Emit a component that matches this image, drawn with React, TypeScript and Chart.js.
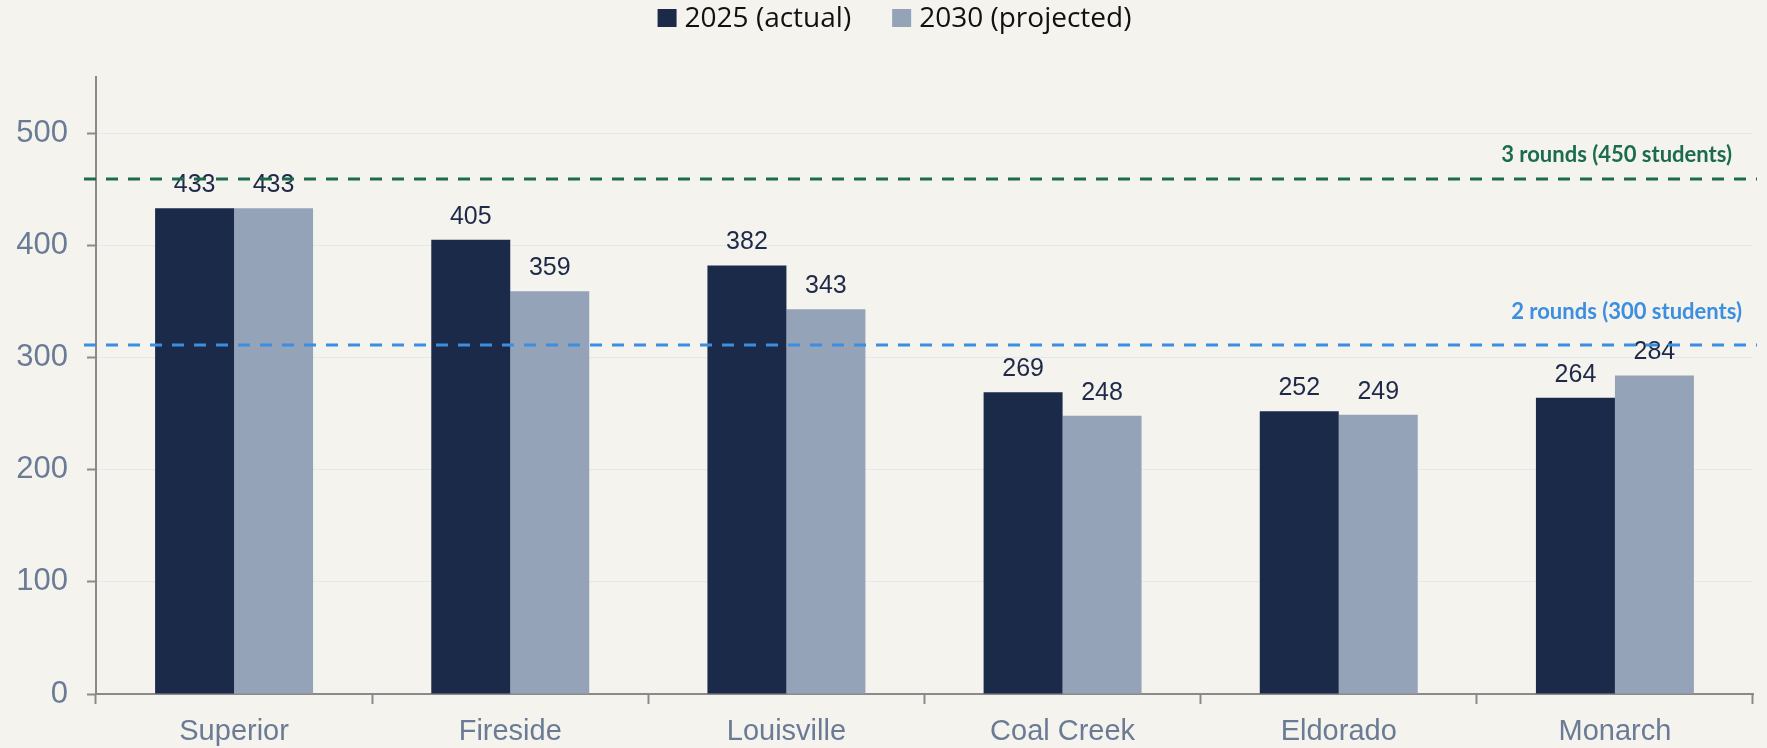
import React, { useEffect, useRef } from "react";
import { Chart, registerables } from "chart.js";

Chart.register(...registerables);

const categories = ["Superior", "Fireside", "Louisville", "Coal Creek", "Eldorado", "Monarch"];
const actual2025 = [433, 405, 382, 269, 252, 264];
const projected2030 = [433, 359, 343, 248, 249, 284];
const seriesLabels = ["2025 (actual)", "2030 (projected)"];
const yTicks = [0, 100, 200, 300, 400, 500];
const thresholds = [
  { value: 459, label: "3 rounds (450 students)", color: "#1b6b4f", textLift: 17, textInset: 21 },
  { value: 311, label: "2 rounds (300 students)", color: "#3c8ee0", textLift: 26, textInset: 11 },
];

const BG = "#f4f3ee";
const DARK = "#1c2a4a";
const LIGHT = "#95a3b8";
const AXIS = "#8a8a8a";
const TICK_TEXT = "#6b7b95";

const bgPlugin = {
  id: "bg",
  beforeDraw(chart: any) {
    const { ctx, width, height } = chart;
    ctx.save();
    ctx.fillStyle = BG;
    ctx.fillRect(0, 0, width, height);
    ctx.restore();
  },
};

const valueLabels = {
  id: "valueLabels",
  afterDatasetsDraw(chart: any) {
    const { ctx } = chart;
    ctx.save();
    ctx.font = "25px 'Liberation Sans', Arial, sans-serif";
    ctx.fillStyle = "#1f2a48";
    ctx.textAlign = "center";
    ctx.textBaseline = "middle";
    chart.data.datasets.forEach((ds: any, di: number) => {
      const meta = chart.getDatasetMeta(di);
      meta.data.forEach((bar: any, i: number) => {
        ctx.fillText(String(ds.data[i]), bar.x, bar.y - 23);
      });
    });
    ctx.restore();
  },
};

const thresholdLines = {
  id: "thresholdLines",
  afterDraw(chart: any) {
    const { ctx, chartArea, scales } = chart;
    ctx.save();
    thresholds.forEach((t) => {
      const y = scales.y.getPixelForValue(t.value);
      ctx.strokeStyle = t.color;
      ctx.lineWidth = 3;
      ctx.setLineDash([12, 10]);
      ctx.beginPath();
      ctx.moveTo(chartArea.left - 12, y);
      ctx.lineTo(chartArea.right + 4, y);
      ctx.stroke();
      ctx.setLineDash([]);
      ctx.font = "bold 22px Lato, 'Open Sans', sans-serif";
      ctx.fillStyle = t.color;
      ctx.textAlign = "right";
      ctx.textBaseline = "alphabetic";
      ctx.fillText(t.label, chartArea.right - t.textInset, y - t.textLift);
    });
    ctx.restore();
  },
};

const customLegend = {
  id: "customLegend",
  afterDraw(chart: any) {
    const { ctx, width } = chart;
    ctx.save();
    ctx.font = "28px 'Open Sans', sans-serif";
    const box = 19;
    const gapText = 8;
    const gapItem = 41;
    const items = chart.data.datasets.map((ds: any) => ({
      text: ds.label,
      color: ds.backgroundColor,
      w: ctx.measureText(ds.label).width,
    }));
    const total =
      items.reduce((s: number, it: any) => s + box + gapText + it.w, 0) + gapItem * (items.length - 1);
    let x = width / 2 + 11 - total / 2;
    const cy = 18;
    items.forEach((it: any) => {
      ctx.fillStyle = it.color;
      ctx.fillRect(x, cy - 9, box, 18);
      x += box + gapText;
      ctx.fillStyle = "#111111";
      ctx.textAlign = "left";
      ctx.textBaseline = "middle";
      ctx.fillText(it.text, x, cy + 1);
      x += it.w + gapItem;
    });
    ctx.restore();
  },
};

export default function App() {
  const ref = useRef<HTMLCanvasElement | null>(null);
  useEffect(() => {
    document.body.style.margin = "0";
    const canvas = ref.current;
    if (!canvas) return;
    const chart = new Chart(canvas, {
      type: "bar",
      data: {
        labels: categories,
        datasets: [
          { label: seriesLabels[0], data: actual2025, backgroundColor: DARK, borderWidth: 0 },
          { label: seriesLabels[1], data: projected2030, backgroundColor: LIGHT, borderWidth: 0 },
        ],
      },
      options: {
        responsive: false,
        animation: false,
        devicePixelRatio: 1,
        layout: { padding: { top: 77, right: 14, left: 0, bottom: 0 } },
        datasets: { bar: { categoryPercentage: 0.572, barPercentage: 1 } },
        plugins: {
          legend: { display: false },
          tooltip: { enabled: false },
          title: { display: false },
        },
        scales: {
          x: {
            offset: true,
            grid: {
              offset: true,
              drawOnChartArea: false,
              drawTicks: true,
              tickLength: 10,
              tickColor: AXIS,
              tickWidth: 2,
            },
            border: { color: AXIS, width: 2 },
            ticks: {
              color: TICK_TEXT,
              font: { family: "'Liberation Sans', Arial, sans-serif", size: 29 },
              padding: 11,
              maxRotation: 0,
              autoSkip: false,
            },
            afterFit(axis: any) {
              axis.height = 54;
            },
          },
          y: {
            min: 0,
            max: 550,
            grid: {
              color: "#e2e7f0",
              lineWidth: 1,
              drawTicks: true,
              tickLength: 9,
              tickColor: AXIS,
              tickWidth: 2,
            },
            border: { color: AXIS, width: 2 },
            afterBuildTicks(axis: any) {
              axis.ticks = yTicks.map((v) => ({ value: v }));
            },
            ticks: {
              color: TICK_TEXT,
              font: { family: "'Liberation Sans', Arial, sans-serif", size: 31 },
              padding: 19,
              includeBounds: false,
            },
            afterFit(axis: any) {
              axis.width = 96;
            },
          },
        },
      },
      plugins: [bgPlugin, valueLabels, thresholdLines, customLegend],
    });
    return () => chart.destroy();
  }, []);
  return (
    <div style={{ width: 1767, height: 748 }}>
      <canvas ref={ref} width={1767} height={748} style={{ display: "block" }} />
    </div>
  );
}
